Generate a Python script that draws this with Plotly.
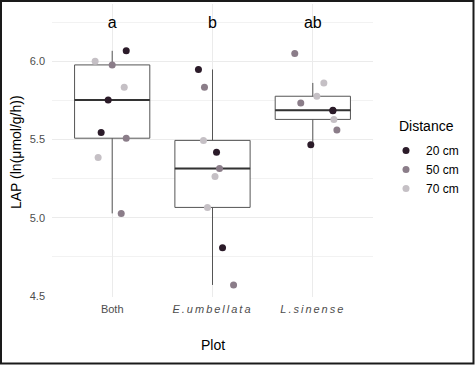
import numpy as np
import plotly.graph_objects as go

# ---------------- data ----------------
plots = ["Both", "E.umbellata", "L.sinense"]
plot_ticktext = ["Both",
                 "<i><span style='letter-spacing:2px'>E.umbellata</span></i>",
                 "<i><span style='letter-spacing:2px'>L.sinense</span></i>"]
distances = ["20 cm", "50 cm", "70 cm"]
letters = ["a", "b", "ab"]
letter_y = 6.24

# long format: plot index, distance, LAP value, horizontal jitter
obs_plot = [0, 0, 0, 0, 0, 0, 0, 0, 0,
            1, 1, 1, 1, 1, 1, 1, 1, 1,
            2, 2, 2, 2, 2, 2, 2, 2, 2]
obs_dist = ["20 cm", "20 cm", "20 cm", "50 cm", "50 cm", "50 cm", "70 cm", "70 cm", "70 cm",
            "20 cm", "20 cm", "20 cm", "50 cm", "50 cm", "50 cm", "70 cm", "70 cm", "70 cm",
            "20 cm", "20 cm", "20 cm", "50 cm", "50 cm", "50 cm", "70 cm", "70 cm", "70 cm"]
obs_lap = [6.066, 5.752, 5.545, 5.976, 5.508, 5.028, 6.000, 5.833, 5.385,
           5.947, 5.419, 4.808, 5.833, 5.314, 4.571, 5.494, 5.263, 5.066,
           5.684, 5.466, 5.686, 6.049, 5.733, 5.560, 5.861, 5.776, 5.628]
obs_jitter = [0.14, -0.04, -0.11, 0.00, 0.14, 0.09, -0.17, 0.12, -0.14,
              -0.14, 0.04, 0.10, -0.08, 0.07, 0.21, -0.09, 0.025, -0.05,
              0.20, -0.02, 0.20, -0.18, -0.12, 0.24, 0.11, 0.04, 0.21]

dist_colors = {"20 cm": "#2b1b29", "50 cm": "#8b7d89", "70 cm": "#c5c0c5"}

# ---------------- figure ----------------
W, H = 475, 365
L, R, T, B = 52, 102, 4, 68
pw, ph = W - L - R, H - T - B

fig = go.Figure()

# boxes
fig.add_trace(go.Box(
    x=obs_plot, y=obs_lap, width=0.75, quartilemethod="inclusive",
    boxpoints="outliers", marker=dict(opacity=0, size=1),
    fillcolor="white", line=dict(color="#555555", width=1),
    whiskerwidth=0, showlegend=False, hoverinfo="skip"))

# thicker median lines computed from the data
med_x, med_y = [], []
for i in range(len(plots)):
    vals = [v for p, v in zip(obs_plot, obs_lap) if p == i]
    m = float(np.median(vals))
    med_x += [i - 0.375, i + 0.375, None]
    med_y += [m, m, None]
fig.add_trace(go.Scatter(x=med_x, y=med_y, mode="lines",
                         line=dict(color="#333333", width=2),
                         showlegend=False, hoverinfo="skip"))

# jittered points per distance
for d in distances:
    xs = [p + j for p, j, dd in zip(obs_plot, obs_jitter, obs_dist) if dd == d]
    ys = [v for v, dd in zip(obs_lap, obs_dist) if dd == d]
    fig.add_trace(go.Scatter(x=xs, y=ys, mode="markers", name=d,
                             marker=dict(color=dist_colors[d], size=7),
                             hoverinfo="skip"))

# significance letters
fig.add_trace(go.Scatter(x=list(range(len(plots))), y=[letter_y] * len(plots),
                         mode="text", text=letters,
                         textfont=dict(family="Liberation Sans, Arial", size=16, color="black"),
                         showlegend=False, hoverinfo="skip"))

grid = "#ebebeb"
fig.update_layout(
    width=W, height=H,
    margin=dict(l=L, r=R, t=T, b=B, autoexpand=False),
    paper_bgcolor="white", plot_bgcolor="white",
    font=dict(family="Liberation Sans, Arial", color="black"),
    xaxis=dict(range=[-0.6, 2.6], tickvals=list(range(len(plots))), ticktext=plot_ticktext,
               showgrid=True, gridcolor=grid, gridwidth=1, zeroline=False, showline=False,
               ticks="", tickfont=dict(size=11, color="#4d4d4d"), ticklabelstandoff=4,
               fixedrange=True),
    yaxis=dict(range=[4.494, 6.365], tickvals=[4.5, 5.0, 5.5, 6.0], tickformat=".1f",
               showgrid=True, gridcolor=grid, gridwidth=1, zeroline=False, showline=False,
               ticks="", tickfont=dict(size=11, color="#4d4d4d"), ticklabelstandoff=6,
               minor=dict(dtick=0.25, tick0=4.5, showgrid=True, gridcolor="#f2f2f2", gridwidth=0.6),
               fixedrange=True),
    legend=dict(font=dict(size=12), x=(386 - L) / pw, xanchor="left",
                y=1 - (136 - T) / ph, yanchor="top", bgcolor="rgba(0,0,0,0)",
                itemsizing="trace", tracegroupgap=0),
    annotations=[
        dict(text="Distance", xref="paper", yref="paper", x=(397 - L) / pw, y=1 - (126 - T) / ph,
             showarrow=False, font=dict(size=14), xanchor="left", yanchor="middle"),
        dict(text="Plot", xref="paper", yref="paper", x=(213 - L) / pw, y=1 - (345 - T) / ph,
             showarrow=False, font=dict(size=14), xanchor="center", yanchor="middle"),
        dict(text="LAP (ln(μmol/g/h))", xref="paper", yref="paper", x=(16 - L) / pw,
             y=1 - (152 - T) / ph, showarrow=False, font=dict(size=14), textangle=-90,
             xanchor="center", yanchor="middle"),
    ],
    shapes=[dict(type="rect", xref="paper", yref="paper",
                 x0=(1 - L) / pw, x1=(473.5 - L) / pw,
                 y0=1 - (363.5 - T) / ph, y1=1 - (1 - T) / ph,
                 line=dict(color="#1a1a1a", width=2), layer="above")],
)

fig.write_html("out.html", config={"displayModeBar": False},
               post_script="document.body.style.margin='0';")
